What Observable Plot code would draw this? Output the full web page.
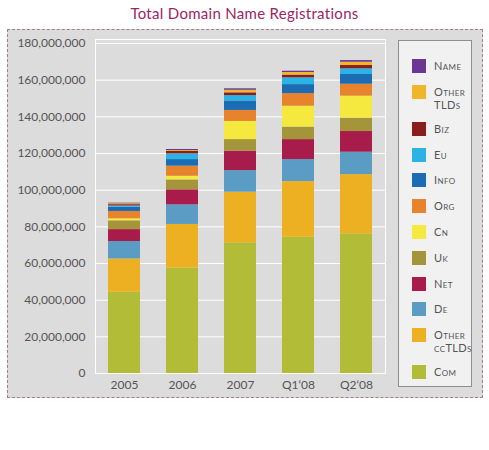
<!DOCTYPE html>
<html>
<head>
<meta charset="utf-8">
<script src="https://cdn.jsdelivr.net/npm/d3@7"></script>
<script src="https://cdn.jsdelivr.net/npm/@observablehq/plot@0.6"></script>
<style>
  html, body { margin: 0; padding: 0; background: #ffffff; }
  #wrap { position: relative; width: 489px; height: 450px; font-family: "Lato", "Open Sans", sans-serif; }
  #title { position: absolute; left: 0; top: 4px; width: 489px; text-align: center; font-size: 15px; color: #9c2462; letter-spacing: 0.3px; }
  #box { position: absolute; left: 7px; top: 29px; width: 476px; height: 369px; box-sizing: border-box; border: 1px dashed #a27d8c; background: #dcdcdc; }
  #chart { position: absolute; left: 0; top: 29px; }
  #legend { position: absolute; left: 398px; top: 40px; width: 74px; height: 347px; box-sizing: border-box; border: 1px solid #8e8e8e; background: #f1f1f1; padding-top: 18px; }
  .item { display: flex; flex-direction: row; align-items: flex-start; padding-left: 13px; }
  .sw { width: 14px; height: 14px; flex: none; }
  .lab { margin-left: 8px; font-size: 11px; line-height: 13px; margin-top: 0px; color: #555; font-variant: small-caps; letter-spacing: 0.4px; font-family: "Lato", sans-serif; }
</style>
</head>
<body>
<div id="wrap">
  <div id="title">Total Domain Name Registrations</div>
  <div id="box"></div>
  <div id="chart"></div>
  <div id="legend"></div>
</div>
<script>
// Periods (x categories)
const periods = ["2005", "2006", "2007", "Q1‘08", "Q2‘08"];
// Stack order, bottom to top
const categories = ["Com", "Other ccTLDs", "De", "Net", "Uk", "Cn", "Org", "Info", "Eu", "Biz", "Other TLDs", "Name"];
const colors = ["#b2bc36", "#edb023", "#5b9cc5", "#a81c4c", "#a4953a", "#f5e93f", "#e6832c", "#1b6cb3", "#2bb3e6", "#8a1e1c", "#efb62a", "#6b3692"];
// Values in millions, one array per category, matching periods
const com        = [44.3, 57.5, 71.3, 74.4, 76.2];
const otherCcTLD = [18.2, 23.8, 27.6, 30.3, 32.3];
const de         = [9.5, 10.7, 11.8, 12.0, 12.2];
const net        = [6.5, 8.2, 10.6, 10.9, 11.3];
const uk         = [4.8, 5.4, 6.3, 6.8, 7.3];
const cn         = [1.1, 2.0, 9.9, 11.4, 12.0];
const org        = [4.0, 5.5, 6.0, 6.9, 6.5];
const info       = [2.3, 3.6, 5.2, 4.9, 5.3];
const eu         = [0.7, 3.1, 2.9, 3.7, 3.1];
const biz        = [0.7, 1.3, 1.5, 1.5, 1.8];
const otherTLD   = [0.5, 0.5, 1.4, 1.4, 1.8];
const name       = [0.3, 0.6, 0.8, 0.7, 0.9];
const series = [com, otherCcTLD, de, net, uk, cn, org, info, eu, biz, otherTLD, name];
// Y tick values
const yTicks = [0, 20e6, 40e6, 60e6, 80e6, 100e6, 120e6, 140e6, 160e6, 180e6];

const data = [];
categories.forEach((c, i) => {
  periods.forEach((p, j) => {
    data.push({period: p, category: c, value: series[i][j] * 1e6});
  });
});

const plot = Plot.plot({
  width: 392,
  height: 369,
  marginLeft: 95,
  marginRight: 7,
  marginTop: 10,
  marginBottom: 25,
  style: {fontFamily: "Lato, sans-serif", fontSize: "12px", color: "#555", background: "transparent", overflow: "visible"},
  x: {domain: periods, paddingInner: 0.45, paddingOuter: 0.225, label: null},
  y: {domain: [0, 182.2e6], label: null},
  color: {domain: categories, range: colors},
  marks: [
    Plot.gridY(yTicks, {stroke: "#ffffff", strokeOpacity: 1, strokeWidth: 1}),
    Plot.frame({stroke: "#ffffff", strokeWidth: 1}),
    Plot.barY(data, {x: "period", y: "value", fill: "category"}),
    Plot.axisY(yTicks, {tickSize: 0, tickPadding: 10, tickFormat: d3.format(","), label: null, fill: "#555"}),
    Plot.axisX({tickSize: 0, tickPadding: 7, label: null, fill: "#555"})
  ]
});
document.getElementById("chart").appendChild(plot);

// Legend (top to bottom: reverse stack order)
const legendLabels = {"Other TLDs": "Other<br>TLDs", "Other ccTLDs": "Other<br>ccTLDs"};
const legend = document.getElementById("legend");
categories.slice().reverse().forEach((c) => {
  const idx = categories.indexOf(c);
  const two = legendLabels[c] !== undefined;
  const item = document.createElement("div");
  item.className = "item";
  item.style.height = two ? "37px" : "25.8px";
  item.innerHTML = `<div class="sw" style="background:${colors[idx]}"></div><div class="lab">${two ? legendLabels[c] : c}</div>`;
  legend.appendChild(item);
});
</script>
</body>
</html>
